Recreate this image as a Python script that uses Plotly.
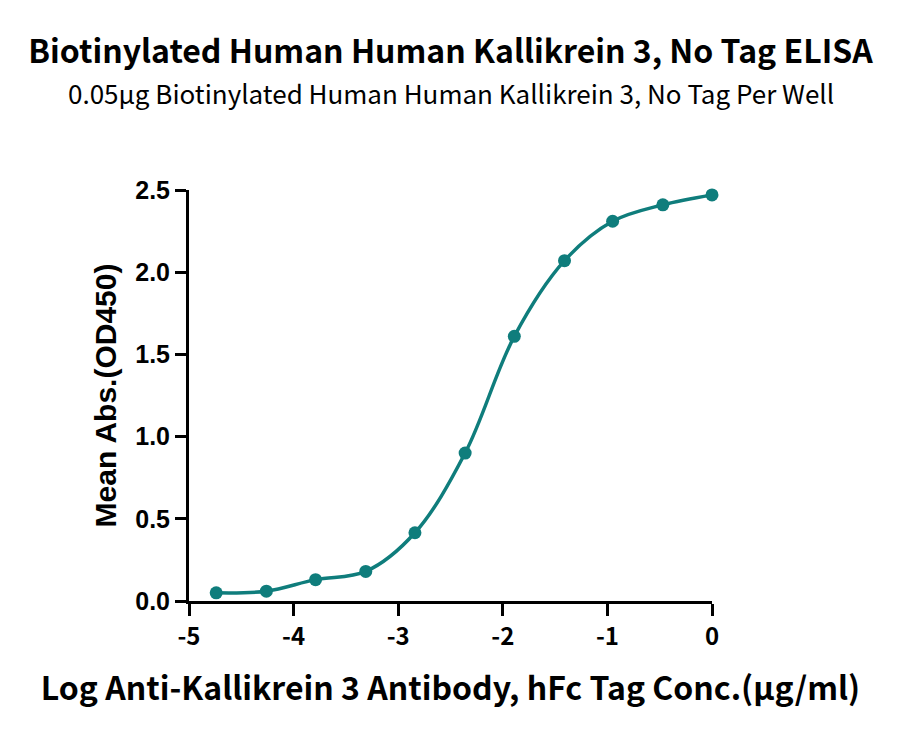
import plotly.graph_objects as go

# log concentration (ug/ml) and mean OD450
log_conc = [-4.74, -4.26, -3.79, -3.31, -2.84, -2.36, -1.89, -1.41, -0.95, -0.47, 0.0]
mean_abs = [0.05, 0.06, 0.13, 0.18, 0.415, 0.90, 1.61, 2.07, 2.31, 2.41, 2.47]

x_ticks = [-5, -4, -3, -2, -1, 0]
y_ticks = [0.0, 0.5, 1.0, 1.5, 2.0, 2.5]

teal = "#0f7d7c"
src = "Noto Sans CJK SC"
arial = "Liberation Sans"

fig = go.Figure()

# smooth curve through the points
fig.add_trace(go.Scatter(
    x=log_conc, y=mean_abs, mode="lines",
    line=dict(color=teal, width=3.5, shape="spline", smoothing=1.0),
    hoverinfo="skip", showlegend=False,
))

fig.add_trace(go.Scatter(
    x=log_conc, y=mean_abs, mode="markers",
    marker=dict(color=teal, size=13),
    showlegend=False, cliponaxis=False,
))

fig.update_layout(
    width=900, height=736,
    paper_bgcolor="white", plot_bgcolor="white",
    margin=dict(l=181, r=196, t=182, b=143),
    title=dict(
        text="<b>Biotinylated Human Human Kallikrein 3, No Tag ELISA</b>",
        x=0.5, xanchor="center", xref="paper",
        y=1 - 44 / 736, yanchor="middle", yref="container",
        font=dict(family=src, size=32, color="black"),
    ),
)

# subtitle
fig.add_annotation(
    text="0.05μg Biotinylated Human Human Kallikrein 3, No Tag Per Well",
    xref="paper", yref="paper", x=0.5, y=1 + 97 / 411,
    xanchor="center", yanchor="middle", showarrow=False,
    font=dict(family=src, size=26, color="black"),
)

fig.update_xaxes(
    range=[-5, 0], tickvals=x_ticks, ticktext=[str(v) for v in x_ticks],
    showline=True, linecolor="black", linewidth=3,
    ticks="outside", ticklen=12, tickwidth=3, tickcolor="black",
    showgrid=False, zeroline=False,
    tickfont=dict(family=src, size=24, color="black", weight="bold"),
    title=dict(text="<b>Log Anti-Kallikrein 3 Antibody, hFc Tag Conc.(μg/ml)</b>",
               font=dict(family=src, size=32, color="black"), standoff=27),
)

fig.update_yaxes(
    range=[0, 2.5], tickvals=y_ticks, ticktext=[f"{v:.1f}" for v in y_ticks],
    showline=True, linecolor="black", linewidth=3,
    ticks="outside", ticklen=11, tickwidth=3, tickcolor="black",
    showgrid=False, zeroline=False,
    tickfont=dict(family=arial, size=25, color="black", weight="bold"),
    title=dict(text="<b>Mean Abs.(OD450)</b>",
               font=dict(family=arial, size=30, color="black"), standoff=10),
)

fig.write_html("out.html")
